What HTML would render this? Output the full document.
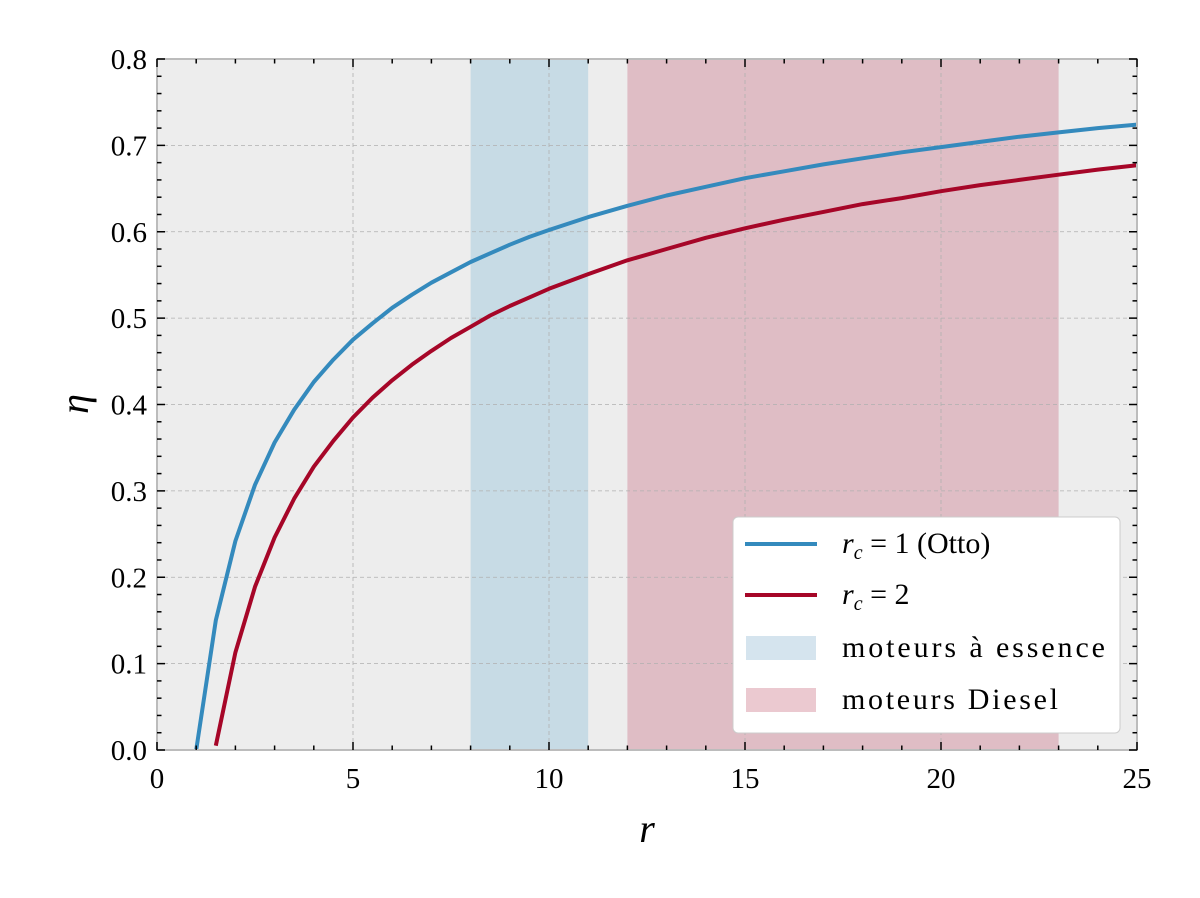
<!DOCTYPE html>
<html><head><meta charset="utf-8"><style>
body{margin:0;background:#fff;}
svg{display:block;font-family:"Liberation Serif",serif;}
</style></head><body>
<svg id="chart" width="1200" height="898"></svg>
<script>
const rValsOtto=[1,1.5,2,2.5,3,3.5,4,4.5,5,5.5,6,6.5,7,7.5,8,8.5,9,9.5,10,11,12,13,14,15,16,17,18,19,20,21,22,23,24,25];
const etaOtto=[0,0.150,0.242,0.307,0.356,0.394,0.426,0.452,0.475,0.494,0.512,0.527,0.541,0.553,0.565,0.575,0.585,0.594,0.602,0.617,0.630,0.642,0.652,0.662,0.670,0.678,0.685,0.692,0.698,0.704,0.710,0.715,0.720,0.724];
const rValsDiesel=[1.5,2,2.5,3,3.5,4,4.5,5,5.5,6,6.5,7,7.5,8,8.5,9,9.5,10,11,12,13,14,15,16,17,18,19,20,21,22,23,24,25];
const etaDiesel=[0.005,0.113,0.189,0.246,0.291,0.328,0.358,0.385,0.408,0.428,0.446,0.462,0.477,0.490,0.503,0.514,0.524,0.534,0.551,0.567,0.580,0.593,0.604,0.614,0.623,0.632,0.639,0.647,0.654,0.660,0.666,0.672,0.677];
const essenceSpan=[8,11];
const dieselSpan=[12,23];
const xTicks=[0,5,10,15,20,25];
const yTicks=[0,0.1,0.2,0.3,0.4,0.5,0.6,0.7,0.8];
const yTickLabels=["0.0","0.1","0.2","0.3","0.4","0.5","0.6","0.7","0.8"];

const L=157,R=1137,T=59,B=750,xMax=25,yMax=0.8;
const X=v=>L+(v/xMax)*(R-L);
const Y=v=>B-(v/yMax)*(B-T);
const svg=document.getElementById('chart');
const NS='http://www.w3.org/2000/svg';
function mk(tag,attrs,parent){const e=document.createElementNS(NS,tag);for(const k in attrs)e.setAttribute(k,attrs[k]);(parent||svg).appendChild(e);return e;}

let e=mk('rect',{x:L,y:T,width:R-L,height:B-T,fill:'#ededed'});


e=mk('rect',{x:X(essenceSpan[0]),y:T,width:X(essenceSpan[1])-X(essenceSpan[0]),height:B-T,fill:'#c7dbe5'});


e=mk('rect',{x:X(dieselSpan[0]),y:T,width:X(dieselSpan[1])-X(dieselSpan[0]),height:B-T,fill:'#dfbdc5'});



xTicks.forEach(v=>{const g=mk('line',{x1:X(v),x2:X(v),y1:T,y2:B,stroke:'#b0b0b0','stroke-dasharray':'4,3','stroke-width':0.8});

});
yTicks.forEach(v=>{const g=mk('line',{x1:L,x2:R,y1:Y(v),y2:Y(v),stroke:'#b0b0b0','stroke-dasharray':'4,3','stroke-width':0.8});

});

function path(xs,ys,color,name){let d=xs.map((x,i)=>(i?'L':'M')+X(x).toFixed(1)+','+Y(ys[i]).toFixed(1)).join('');
const p=mk('path',{d:d,fill:'none',stroke:color,'stroke-width':4,'stroke-linejoin':'round'});

}
path(rValsOtto,etaOtto,'#348abd','otto-line');
path(rValsDiesel,etaDiesel,'#a60628','diesel-line');

e=mk('rect',{x:L,y:T,width:R-L,height:B-T,fill:'none',stroke:'#bcbcbc','stroke-width':2});



for(let v=0;v<=25;v++){const major=v%5===0;const len=major?8:4.5;
mk('line',{x1:X(v),x2:X(v),y1:B,y2:B-len,stroke:'#000','stroke-width':1.5});
mk('line',{x1:X(v),x2:X(v),y1:T,y2:T+len,stroke:'#000','stroke-width':1.5});}
for(let i=0;i<=40;i++){const v=i*0.02;const major=i%5===0;const len=major?8:4.5;
mk('line',{x1:L,x2:L+len,y1:Y(v),y2:Y(v),stroke:'#000','stroke-width':1.5});
mk('line',{x1:R,x2:R-len,y1:Y(v),y2:Y(v),stroke:'#000','stroke-width':1.5});}

xTicks.forEach(v=>{const t=mk('text',{x:X(v),y:788,'font-size':29,'text-anchor':'middle'});t.textContent=v;

});
yTicks.forEach((v,i)=>{const t=mk('text',{x:147,y:Y(v)+10,'font-size':29,'text-anchor':'end'});t.textContent=yTickLabels[i];

});

e=mk('text',{x:647,y:842,'font-size':40,'font-style':'italic','text-anchor':'middle'});e.textContent='r';


e=mk('text',{x:0,y:0,'font-size':40,'font-style':'italic','text-anchor':'middle',transform:'translate(88,404) rotate(-90)'});e.textContent='η';



const lg=mk('g',{});


mk('rect',{x:733,y:517,width:387,height:216,rx:5,fill:'#fff',stroke:'#ccc','stroke-width':1},lg);
const items=[['line','#348abd','r_c = 1 (Otto)',544],['line','#a60628','r_c = 2',595],['rect','#d5e4ee','moteurs à essence',648],['rect','#ebc9d0','moteurs Diesel',700]];
items.forEach(it=>{
 const g=mk('g',{},lg);
 
 
 if(it[0]==='line')mk('line',{x1:745,x2:817,y1:it[3],y2:it[3],stroke:it[1],'stroke-width':4},g);
 else mk('rect',{x:746,y:it[3]-12,width:70,height:24,fill:it[1]},g);
 const t=mk('text',{x:842,y:it[3]+9,'font-size':30,textLength:(it[2]==='moteurs à essence'?263:(it[2]==='moteurs Diesel'?216:null))||undefined},g);
 if(t.getAttribute('textLength')==='undefined')t.removeAttribute('textLength');
 if(it[2].startsWith('r_c')){
  t.innerHTML='<tspan font-style="italic">r</tspan><tspan font-style="italic" font-size="20" dy="6">c</tspan><tspan dy="-6"> = '+(it[2].includes('Otto')?'1 (Otto)':'2')+'</tspan>';
 } else t.textContent=it[2];
});
</script>
</body></html>
